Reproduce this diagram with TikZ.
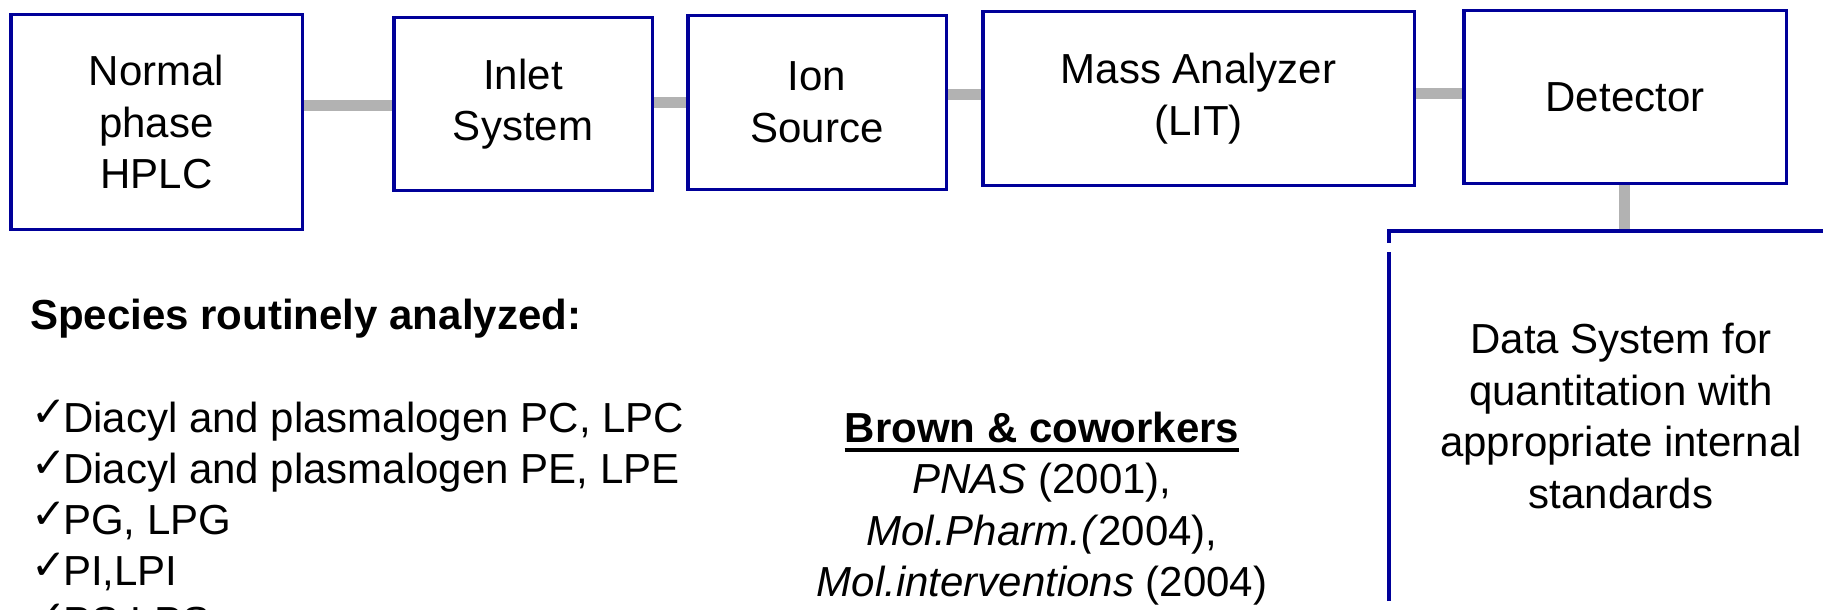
\documentclass[tikz,border=0pt]{standalone}
\usepackage{fontspec}
\setmainfont{Liberation Sans}
\newfontfamily\symfont{DejaVu Sans}
\definecolor{boxblue}{RGB}{0,0,153}
\definecolor{linkgray}{RGB}{178,178,178}
\pgfdeclarelayer{back}
\pgfsetlayers{back,main}

\begin{document}
\begin{tikzpicture}[x=1pt,y=-1pt,
  bigtext/.style={font=\fontsize{42}{51.5}\selectfont},
  stage/.style={draw=boxblue, line width=3.5pt, align=center, inner sep=0pt, bigtext},
  edge/.style={draw=boxblue, line width=3.5pt},
  link/.style={draw=linkgray, line width=11pt},
  txt/.style={inner sep=0pt, bigtext},
]
\useasboundingbox (0,0) rectangle (1823,610);

% instrument chain
\node[stage, minimum width=291.5pt, minimum height=214.5pt] (hplc)  at (156.5,122) {Normal\\phase\\HPLC};
\node[stage, minimum width=258.5pt, minimum height=172.5pt] (inlet) at (523,104)    {Inlet\\System};
\node[stage, minimum width=258.5pt, minimum height=173.5pt] (ion)   at (817,102.5)  {Ion\\Source};
\node[stage, minimum width=431.5pt, minimum height=173.5pt] (mass)  at (1198.5,98.5) {Mass Analyzer\\(LIT)};
\node[stage, minimum width=322.5pt, minimum height=172.5pt] (det)   at (1625,97)    {Detector};

% data system (box runs off the page to the right and bottom)
\node[txt, align=center, minimum width=464pt, minimum height=370pt] (ds) at (1621,416)
  {Data System for\\quantitation with\\appropriate internal\\standards};
\draw[edge] (ds.south west) -- ([yshift=-21pt]ds.north west);
\draw[edge] ([yshift=-12pt]ds.north west) -- (ds.north west) -- (ds.north east);

% gray couplings between the stages
\coordinate (y1) at (0,105.5);
\coordinate (y2) at (0,102);
\coordinate (y3) at (0,94.5);
\coordinate (y4) at (0,93.5);
\coordinate (x5) at (1624.5,0);
\begin{pgfonlayer}{back}
  \fill[white] (0,0) rectangle (1823,610);
  \draw[link] (hplc.east |- y1) -- (inlet.west |- y1);
  \draw[link] (inlet.east |- y2) -- (ion.west |- y2);
  \draw[link] (ion.east |- y3) -- (mass.west |- y3);
  \draw[link] (mass.east |- y4) -- (det.west |- y4);
  \draw[link] (det.south -| x5) -- (ds.north -| x5);
\end{pgfonlayer}

% list of lipid classes
\node[txt, anchor=base west, font=\bfseries\fontsize{42}{51.5}\selectfont] (head) at (30,329) {Species routinely analyzed:};
\foreach \t [count=\i] in {{Diacyl and plasmalogen PC, LPC},{Diacyl and plasmalogen PE, LPE},{PG, LPG},{PI,LPI},{PS,LPS}}
  \node[txt, anchor=base west] (item\i) at (31,{381+51*\i})
    {\makebox[32pt][l]{\raisebox{6pt}{\symfont\fontsize{42}{42}\selectfont ✓}}\t};

% references
\node[txt, anchor=base, font=\bfseries\fontsize{42}{51.5}\selectfont] (brown) at (1042,442) {Brown \& coworkers};
\draw[line width=3.5pt] ([yshift=-8pt]brown.base west) -- ([yshift=-8pt]brown.base east);
\node[txt, anchor=base] (pnas)  at (1042,493) {\textit{PNAS} (2001),};
\node[txt, anchor=base] (molph) at (1042,545) {\textit{Mol.Pharm.(}2004),};
\node[txt, anchor=base] (molint) at (1042,596) {\textit{Mol.interventions} (2004)};
\end{tikzpicture}
\end{document}
